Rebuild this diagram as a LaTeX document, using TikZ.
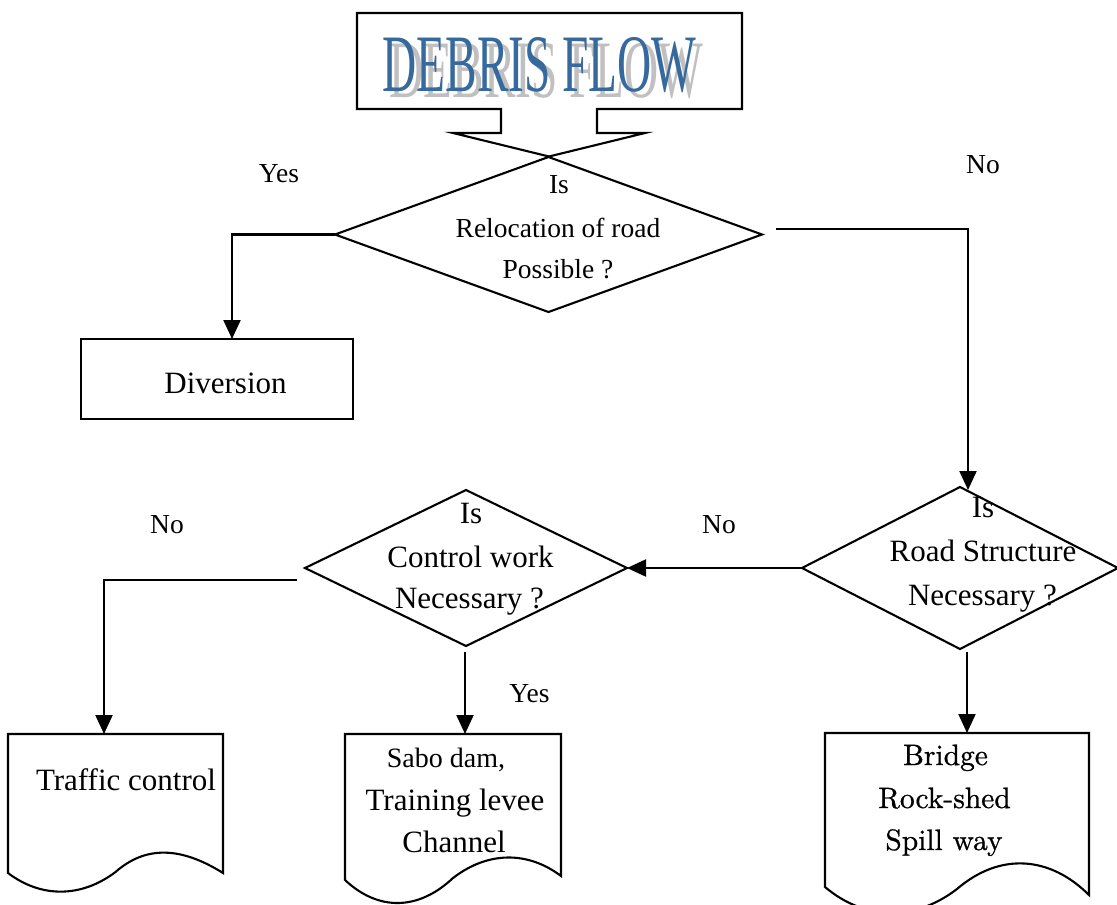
\documentclass[tikz,border=0pt]{standalone}
\usepackage{fontspec}
\usepackage{graphicx}
\newfontfamily\tms{Liberation Serif}
\newfontfamily\lmr{lmroman10-regular.otf}[FakeBold=0.8]
\usetikzlibrary{shapes.geometric,arrows.meta}
\definecolor{titleblue}{RGB}{54,105,158}
\definecolor{shadowgray}{RGB}{192,192,192}
\begin{document}
\begin{tikzpicture}[x=1pt,y=-1pt,line width=2.1pt,
  conn/.style={draw=black,line width=2.1pt},
  arr/.style={conn,-{Triangle[length=19pt,width=17pt]}},
  dia/.style={draw,diamond,inner sep=0pt,outer sep=0pt,fill=white,line width=2.1pt},
  boxsh/.style={draw,rectangle,inner sep=0pt,outer sep=0pt,line width=2.1pt},
  docsh/.style={draw,line width=2.1pt,fill=white},
  tx/.style={font=\tms\fontsize{31}{37}\selectfont,anchor=base,inner sep=0pt},
  txs/.style={font=\tms\fontsize{27.5}{33}\selectfont,anchor=base,inner sep=0pt},
  lbl/.style={font=\tms\fontsize{27.5}{33}\selectfont,anchor=base,inner sep=0pt},
  lmt/.style={font=\lmr\fontsize{29.5}{35}\selectfont,anchor=base,inner sep=0pt},
  ttl/.style={font=\tms\fontsize{81.6}{90}\selectfont,anchor=base,inner sep=0pt},
]
\clip (0,0) rectangle (1117,905);
\fill[white] (0,0) rectangle (1117,905);

% title callout
\draw[docsh] (357,13) -- (742,13) -- (742,109) -- (597,109) -- (597,133) -- (645,133)
  -- (549,156.5) -- (453,133) -- (501,133) -- (501,109) -- (357,109) -- cycle;
\node[ttl,text=shadowgray] (titleshadow) at (546.5,97) {\scalebox{0.58}[1]{DEBRIS FLOW}};
\node[ttl,text=titleblue] (title) at (539.5,91) {\scalebox{0.58}[1]{DEBRIS FLOW}};

% decision 1
\node[dia,minimum width=427pt,minimum height=155pt] (d1) at (548.5,234.5) {};
\node[txs] (d1a) at (559,193) {Is};
\node[txs] (d1b) at (558,237) {Relocation of road};
\node[txs] (d1c) at (558,278) {Possible ?};

% diversion
\node[boxsh,minimum width=272pt,minimum height=80pt] (div) at (217,379) {};
\node[tx] (divt) at (225.5,393) {Diversion};

% decision 2
\node[dia,minimum width=316pt,minimum height=162pt] (d2) at (960,568) {};
\node[tx] (d2a) at (983,517) {Is};
\node[tx] (d2b) at (983,561) {Road Structure};
\node[tx] (d2c) at (982.5,605) {Necessary ?};

% decision 3
\node[dia,minimum width=322pt,minimum height=156pt] (d3) at (466,568) {};
\node[tx] (d3a) at (471,523) {Is};
\node[tx] (d3b) at (470.5,567) {Control work};
\node[tx] (d3c) at (469.5,608) {Necessary ?};

% documents
\draw[docsh] (8,873) -- (8,734) -- (223,734) -- (223,873)
  .. controls (180,846) and (145,846) .. (115.5,872)
  .. controls (81,898) and (41,898) .. (8,873) -- cycle;
\node[tx] (traf) at (126,790) {Traffic control};

\draw[docsh] (345,880) -- (345,734) -- (561,734) -- (561,876)
  .. controls (528,851) and (488,851) .. (453,878)
  .. controls (418,911) and (378,911) .. (345,880) -- cycle;
\node[tx,font=\tms\fontsize{28}{33}\selectfont] (sabo1) at (446,767) {Sabo dam,};
\node[tx] (sabo2) at (455,810) {Training levee};
\node[tx] (sabo3) at (454,852) {Channel};

\draw[docsh] (825,887) -- (825,733) -- (1089,733) -- (1089,895)
  .. controls (1050,856) and (1000,852) .. (957,889)
  .. controls (914,922) and (864,920) .. (825,887) -- cycle;
\node[lmt] (br1) at (945.5,765) {Bridge};
\node[lmt] (br2) at (944.5,808) {Rock-shed};
\node[lmt] (br3) at (944,850) {Spill way};

% connector end points
\coordinate (divin) at (232,339);
\coordinate (noStart) at (776,229);
\coordinate (d2in) at (968,490);
\coordinate (nStart) at (297,580);
\coordinate (trafIn) at (104,734);
\coordinate (yStart) at (465,652);
\coordinate (saboIn) at (465,734);
\coordinate (bStart) at (967,652);
\coordinate (bridgeIn) at (967,733);

% connectors
\draw[arr] (d1.west) -| (divin);
\draw[arr] (noStart) -| (d2in);
\draw[arr] (d2.west) -- (d3.east);
\draw[arr] (nStart) -| (trafIn);
\draw[arr] (yStart) -- (saboIn);
\draw[arr] (bStart) -- (bridgeIn);

% labels
\node[lbl] (lyes1) at (279,182) {Yes};
\node[lbl] (lno1) at (983,173) {No};
\node[lbl] (lno2) at (167,533) {No};
\node[lbl] (lno3) at (719,533) {No};
\node[lbl] (lyes2) at (529.5,702) {Yes};
\end{tikzpicture}
\end{document}
